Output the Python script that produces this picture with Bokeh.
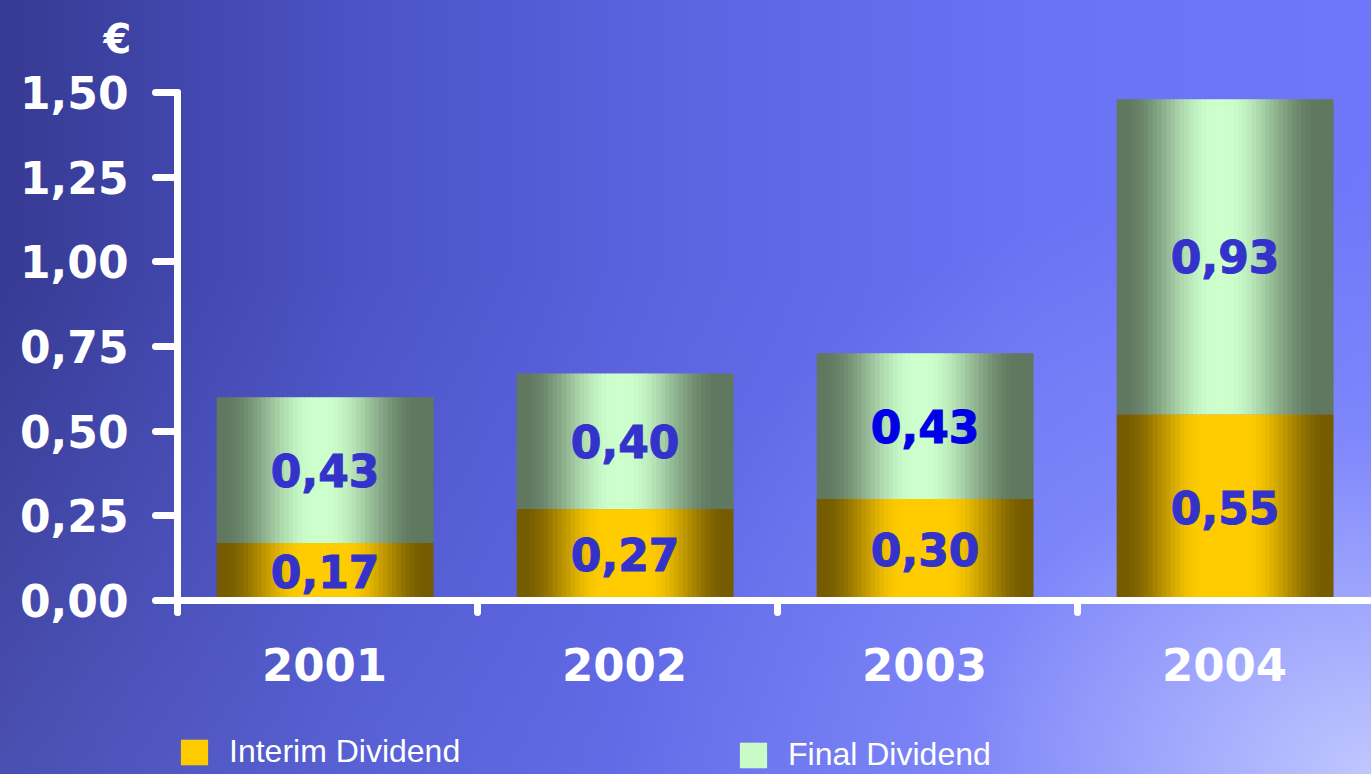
import numpy as np
from bokeh.plotting import figure
from bokeh.models import (Range1d, LinearAxis, FixedTicker, ColumnDataSource, Legend,
                          LegendItem, CustomJSTickFormatter, GlobalInlineStyleSheet, Title)
from bokeh.core.properties import value
from bokeh.embed import file_html
from bokeh.resources import INLINE

# ---------------- data ----------------
years = ["2001", "2002", "2003", "2004"]
interim = [0.17, 0.27, 0.30, 0.55]
final = [0.43, 0.40, 0.43, 0.93]
y_ticks = [0.0, 0.25, 0.50, 0.75, 1.00, 1.25, 1.50]
series_names = ["Interim Dividend", "Final Dividend"]
currency = "€"

# ---------------- styles ----------------
W, H = 1371, 774
LEFT, TOP, ZERO = 177, 70, 600          # frame left/top and the zero line, page pixels
PY = 338.67                              # pixels per unit on the value axis
PX = 300.0                               # pixels per category
BAR_W = 0.72
BAR_SHIFT = -0.008
N_STRIPS = 48
GOLD_DARK, GOLD_LIGHT = (118, 92, 0), (255, 204, 0)
GREEN_DARK, GREEN_LIGHT = (96, 120, 96), (204, 255, 204)
LABEL_COLORS_INT = ["#3333cc", "#3333cc", "#3333cc", "#3333cc"]
LABEL_COLORS_FIN = ["#3333cc", "#3333cc", "#0000e6", "#3333cc"]

BG = ("radial-gradient(ellipse 55% 80% at 100% 100%, rgba(205,212,255,0.85) 0%, "
      "rgba(160,168,255,0.3) 55%, rgba(140,150,255,0) 100%), "
      "linear-gradient(to bottom, rgba(125,135,255,0) 35%, rgba(125,135,255,0.28) 100%), "
      "linear-gradient(to right, #363a92 0%, #4a52c4 25%, #5c64e2 50%, #6a72f4 75%, #6e76fa 100%)")


def mix(c0, c1, s):
    return "#%02x%02x%02x" % tuple(int(round(a + (b - a) * s)) for a, b in zip(c0, c1))


def prof(t, c, inner, outer):
    d = abs(t - c)
    if d <= inner:
        return 1.0
    if d >= outer:
        return 0.0
    u = (outer - d) / (outer - inner)
    return u * u * (3 - 2 * u)


p = figure(width=W, height=H, output_backend="svg", toolbar_location=None,
           x_range=Range1d(-0.5, -0.5 + (W - LEFT) / PX),
           y_range=Range1d(-(H - ZERO) / PY, (ZERO - TOP) / PY),
           x_axis_type=None, y_axis_type=None,
           min_border_left=LEFT, min_border_right=0, min_border_top=TOP, min_border_bottom=0)
p.outline_line_color = None
p.background_fill_alpha = 0
p.border_fill_alpha = 0
p.stylesheets = [GlobalInlineStyleSheet(
    css="html,body{height:100%;} html{background:" + BG + ";} body{background:transparent;}")]

# currency sign above the value axis
p.title = Title(text=currency, align="left", offset=-74, standoff=17,
                text_font="DejaVu Sans", text_font_style="bold", text_font_size="40px",
                text_color="white")

# ---------------- bars (shaded by vertical strips) ----------------
xi, ti, ci = [], [], []
xf, bf, tf, cf = [], [], [], []
for i in range(len(years)):
    for k in range(N_STRIPS):
        t = (k + 0.5) / N_STRIPS
        x = i + BAR_SHIFT - BAR_W / 2 + t * BAR_W
        xi.append(x); ti.append(interim[i]); ci.append(mix(GOLD_DARK, GOLD_LIGHT, prof(t, 0.5, 0.10, 0.47)))
        xf.append(x); bf.append(interim[i]); tf.append(interim[i] + final[i])
        cf.append(mix(GREEN_DARK, GREEN_LIGHT, prof(t, 0.48, 0.03, 0.45)))

sw = BAR_W / N_STRIPS * 1.2
r_int = p.vbar(x="x", top="top", bottom=0, width=sw, fill_color="color", line_color=None,
               source=ColumnDataSource(dict(x=xi, top=ti, color=ci)))
r_fin = p.vbar(x="x", top="top", bottom="bottom", width=sw, fill_color="color", line_color=None,
               source=ColumnDataSource(dict(x=xf, top=tf, bottom=bf, color=cf)))

# ---------------- value labels ----------------
lab = ColumnDataSource(dict(
    x=[c + BAR_SHIFT for c in range(len(years))] * 2,
    y=[v / 2 for v in interim] + [a + b / 2 for a, b in zip(interim, final)],
    text=[f"{v:.2f}".replace(".", ",") for v in interim + final],
    color=LABEL_COLORS_INT + LABEL_COLORS_FIN,
))
p.text(x="x", y="y", text="text", text_color="color", source=lab,
       text_outline_color="color",
       text_font=value("DejaVu Sans"), text_font_style="bold", text_font_size="44px",
       text_align="center", text_baseline="middle")

# ---------------- value axis ----------------
yax = LinearAxis(ticker=FixedTicker(ticks=y_ticks), bounds=(-0.035, 1.5),
                 formatter=CustomJSTickFormatter(code="return tick.toFixed(2).replace('.', ',');"))
yax.axis_line_color = "white"
yax.axis_line_width = 7
yax.axis_line_cap = "round"
yax.major_tick_line_color = "white"
yax.major_tick_line_width = 7
yax.major_tick_line_cap = "round"
yax.major_tick_out = 22
yax.major_tick_in = 0
yax.minor_tick_line_color = None
yax.major_label_text_font = "DejaVu Sans"
yax.major_label_text_font_style = "bold"
yax.major_label_text_font_size = "44px"
yax.major_label_text_color = "white"
yax.major_label_standoff = 27
p.add_layout(yax, "left")

# ---------------- category axis (drawn on the zero line) ----------------
cats = list(range(len(years)))
bounds = [c - 0.5 for c in cats]
p.segment(x0=[-0.5 - 20 / PX], y0=[0], x1=[-0.5 + (W - LEFT) / PX], y1=[0],
          line_color="white", line_width=7, line_cap="round")
p.segment(x0=bounds, y0=[0] * len(bounds), x1=bounds, y1=[-12 / PY] * len(bounds),
          line_color="white", line_width=7, line_cap="round")
p.text(x=[c - 0.01 for c in cats], y=[-64 / PY] * len(cats), text=years, text_color="white",
       text_font=value("DejaVu Sans"), text_font_style="bold", text_font_size="45px",
       text_align="center", text_baseline="middle")

# ---------------- legends ----------------
def make_legend(name, renderer, idx, loc):
    return Legend(items=[LegendItem(label=name, renderers=[renderer], index=idx)],
                  location=loc, orientation="horizontal", background_fill_alpha=0,
                  border_line_color=None, glyph_width=34, glyph_height=32, label_standoff=18,
                  padding=0, margin=0, spacing=0, label_text_font="Liberation Sans",
                  label_text_font_size="32px", label_text_color="white")

p.add_layout(make_legend(series_names[0], r_int, int(0.62 * N_STRIPS), (0, 4)))
p.add_layout(make_legend(series_names[1], r_fin, int(0.40 * N_STRIPS), (559, 1)))

open("out.html", "w").write(file_html(p, INLINE))
